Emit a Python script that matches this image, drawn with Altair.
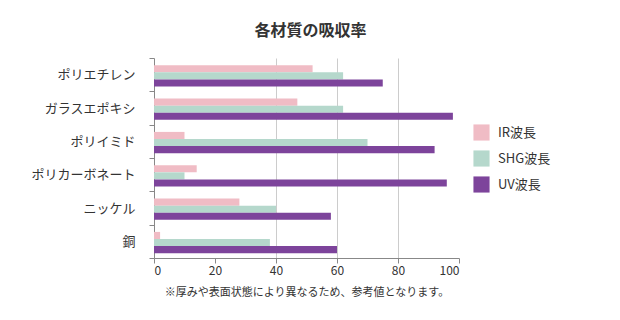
import altair as alt
import pandas as pd

materials = ["ポリエチレン", "ガラスエポキシ", "ポリイミド", "ポリカーボネート", "ニッケル", "銅"]
series = ["IR波長", "SHG波長", "UV波長"]
ir_vals = [52, 47, 10, 14, 28, 2]
shg_vals = [62, 62, 70, 10, 40, 38]
uv_vals = [75, 98, 92, 96, 58, 60]
colors = ["#F0BCC5", "#B5D8CC", "#7D449B"]
x_ticks = [0, 20, 40, 60, 80, 100]

rows = []
for i, m in enumerate(materials):
    for s, vals in zip(series, [ir_vals, shg_vals, uv_vals]):
        rows.append({"material": m, "series": s, "value": vals[i]})
df = pd.DataFrame(rows)

FONT = "Noto Sans CJK JP"

chart = alt.Chart(df).mark_bar().encode(
    y=alt.Y("material:N", sort=materials,
            scale=alt.Scale(paddingInner=0, paddingOuter=0),
            axis=alt.Axis(title=None, tickBand="extent", labelFontSize=13,
                          labelColor="#333333", labelPadding=14, domainColor="#888888",
                          tickColor="#888888", tickSize=5, labelFont=FONT)),
    yOffset=alt.YOffset("series:N", sort=series,
                        scale=alt.Scale(paddingInner=0, paddingOuter=0.85, align=0.6)),
    x=alt.X("value:Q", scale=alt.Scale(domain=[0, 100]),
            axis=alt.Axis(values=x_ticks, title="※厚みや表面状態により異なるため、参考値となります。",
                          titleFontSize=11, titleFontWeight="normal", titleColor="#333333",
                          titleFont=FONT, titlePadding=10,
                          labelFontSize=12, labelColor="#333333", labelFont=FONT,
                          domainColor="#888888", tickColor="#888888", tickSize=5,
                          gridColor={"condition": {"test": "datum.value == 40 || datum.value == 60 || datum.value == 80",
                                                   "value": "#cccccc"}, "value": "transparent"})),
    color=alt.Color("series:N", sort=series,
                    scale=alt.Scale(domain=series, range=colors),
                    legend=alt.Legend(title=None, orient="none", legendX=319, legendY=66,
                                      symbolType="square", symbolSize=260, symbolStrokeWidth=0,
                                      labelFontSize=13, labelColor="#333333", labelFont=FONT,
                                      rowPadding=9, labelOffset=8)),
).properties(
    width=305, height=200,
    padding={"left": 154, "top": 58, "right": 161, "bottom": 62},
    autosize=alt.AutoSizeParams(type="none"),
    title=alt.TitleParams("各材質の吸収率", fontSize=16, fontWeight="bold", color="#333333",
                          font=FONT, anchor="middle", offset=13, dx=4),
).configure_view(stroke=None)

chart.save("out.html", embed_options={"renderer": "svg", "actions": False})
